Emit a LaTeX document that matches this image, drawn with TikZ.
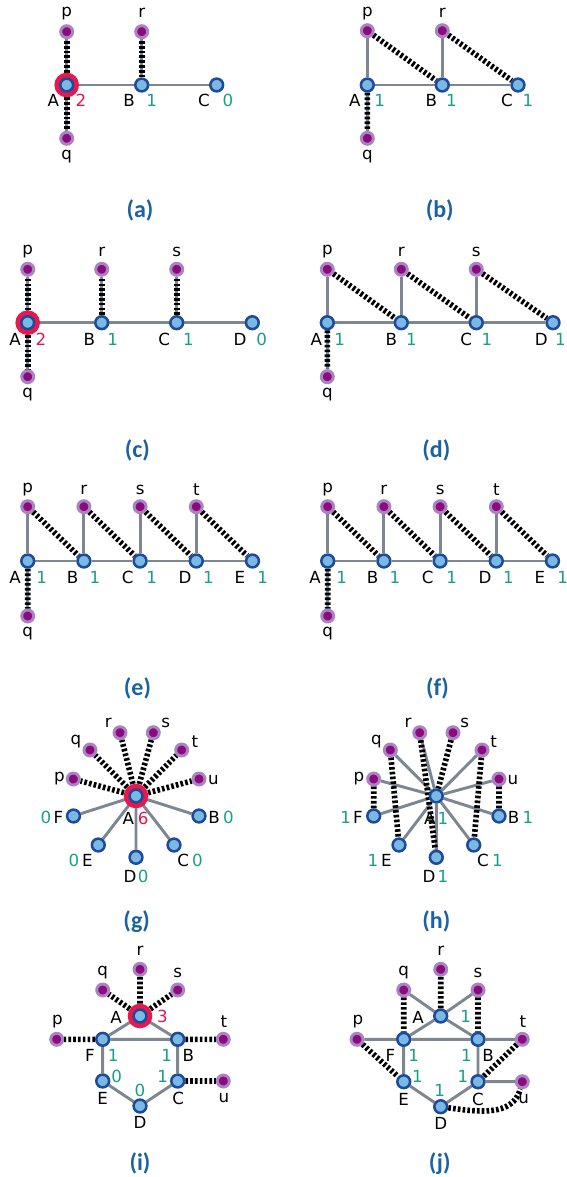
\documentclass[tikz,border=0pt]{standalone}
\usepackage{fontspec}
\setmainfont{DejaVu Sans}
\newfontfamily\capfont{Carlito}
\definecolor{edgegray}{HTML}{7D8791}
\definecolor{vfill}{HTML}{7AB9E3}
\definecolor{vborder}{HTML}{1D4B99}
\definecolor{xdark}{HTML}{8C0A7C}
\definecolor{xlight}{HTML}{A884C4}
\definecolor{halored}{HTML}{E8184F}
\definecolor{numgreen}{HTML}{17A085}
\definecolor{numred}{HTML}{E3174F}
\definecolor{capblue}{HTML}{1A62A0}
\pgfdeclarelayer{edges}
\pgfsetlayers{edges,main}
\tikzset{
  vtx/.style={circle, inner sep=0pt, minimum size=9.6pt, fill=vfill, draw=vborder, line width=1.9pt},
  ext/.style={circle, inner sep=0pt, minimum size=9pt, fill=xdark, draw=xlight, line width=2.2pt},
  halo/.style={circle, inner sep=0pt, minimum size=18.5pt, fill=halored},
  gedge/.style={draw=edgegray, line width=2.2pt},
  medge/.style={draw=black, line width=4.2pt, dash pattern=on 2pt off 1.6pt},
  lab/.style={inner sep=0pt, font=\fontsize{12.5}{14}\selectfont, text=black},
  num/.style={lab, text=numgreen},
  hnum/.style={lab, text=numred},
  ttl/.style={inner sep=0pt, font=\capfont\bfseries\fontsize{18}{20}\selectfont, text=capblue},
}
\newcommand\tx[4]{\node[#1] (#2) at (#3) {#4};}
\begin{document}
\begin{tikzpicture}[x=0.75pt,y=-0.75pt]
\useasboundingbox (0,0) rectangle (567,1177);

% ---------- (a) ----------
\node[halo] (a-h) at (66.7,85) {};
\node[vtx] (a-A) at (66.7,85) {};
\node[vtx] (a-B) at (141.7,85) {};
\node[vtx] (a-C) at (216.7,85) {};
\node[ext] (a-p) at (66.7,31.7) {};
\node[ext] (a-r) at (141.7,31.7) {};
\node[ext] (a-q) at (66.7,138.3) {};
\tx{lab}{a-tp}{66.7,13.3}{p}
\tx{lab}{a-tr}{141.7,13.3}{r}
\tx{lab}{a-tq}{66.7,156.7}{q}
\tx{lab}{a-tA}{53.3,100}{A}
\tx{hnum}{a-nA}{81,100}{2}
\tx{lab}{a-tB}{129,100}{B}
\tx{num}{a-nB}{151.7,100}{1}
\tx{lab}{a-tC}{204,100}{C}
\tx{num}{a-nC}{228,100}{0}
\tx{ttl}{a-cap}{140,210}{(a)}
\begin{pgfonlayer}{edges}
\draw[gedge] (a-A) -- (a-B) -- (a-C);
\draw[gedge] (a-A) -- (a-p) (a-A) -- (a-q) (a-B) -- (a-r);
\draw[medge] (a-A) -- (a-p) (a-A) -- (a-q) (a-B) -- (a-r);
\end{pgfonlayer}

% ---------- (b) ----------
\begin{scope}[shift={(300,0)}]
\node[vtx] (b-A) at (67.3,85) {};
\node[vtx] (b-B) at (142.3,85) {};
\node[vtx] (b-C) at (218,85) {};
\node[ext] (b-p) at (67.3,30.7) {};
\node[ext] (b-r) at (142.3,30.7) {};
\node[ext] (b-q) at (67.3,138.3) {};
\tx{lab}{b-tp}{67.3,13.3}{p}
\tx{lab}{b-tr}{142.3,13.3}{r}
\tx{lab}{b-tq}{67.3,156.7}{q}
\tx{lab}{b-tA}{54.7,100}{A}
\tx{num}{b-nA}{79.7,100}{1}
\tx{lab}{b-tB}{131.3,100}{B}
\tx{num}{b-nB}{151.3,100}{1}
\tx{lab}{b-tC}{207,100}{C}
\tx{num}{b-nC}{228,100}{1}
\tx{ttl}{b-cap}{139.7,210}{(b)}
\begin{pgfonlayer}{edges}
\draw[gedge] (b-A) -- (b-B) -- (b-C);
\draw[gedge] (b-A) -- (b-p) (b-B) -- (b-r) (b-A) -- (b-q);
\draw[medge] (b-p) -- (b-B) (b-r) -- (b-C) (b-A) -- (b-q);
\end{pgfonlayer}
\end{scope}

% ---------- (c) ----------
\node[halo] (c-h) at (27.7,322.7) {};
\node[vtx] (c-A) at (27.7,322.7) {};
\node[vtx] (c-B) at (101.7,322.7) {};
\node[vtx] (c-C) at (176.7,322.7) {};
\node[vtx] (c-D) at (252.3,322.7) {};
\node[ext] (c-p) at (27.7,269.3) {};
\node[ext] (c-r) at (101.7,269.3) {};
\node[ext] (c-s) at (176.7,269.3) {};
\node[ext] (c-q) at (27.7,376.7) {};
\tx{lab}{c-tp}{27.7,251.7}{p}
\tx{lab}{c-tr}{101.7,251.7}{r}
\tx{lab}{c-ts}{176.7,251.7}{s}
\tx{lab}{c-tq}{27.7,395}{q}
\tx{lab}{c-tA}{15,339}{A}
\tx{hnum}{c-nA}{41,339}{2}
\tx{lab}{c-tB}{89.3,339}{B}
\tx{num}{c-nB}{112.7,339}{1}
\tx{lab}{c-tC}{164.3,339}{C}
\tx{num}{c-nC}{188.3,339}{1}
\tx{lab}{c-tD}{240,339}{D}
\tx{num}{c-nD}{261.7,339}{0}
\tx{ttl}{c-cap}{137.3,450}{(c)}
\begin{pgfonlayer}{edges}
\draw[gedge] (c-A) -- (c-B) -- (c-C) -- (c-D);
\draw[gedge] (c-A) -- (c-p) (c-A) -- (c-q) (c-B) -- (c-r) (c-C) -- (c-s);
\draw[medge] (c-A) -- (c-p) (c-A) -- (c-q) (c-B) -- (c-r) (c-C) -- (c-s);
\end{pgfonlayer}

% ---------- (d) ----------
\begin{scope}[shift={(300,0)}]
\node[vtx] (d-A) at (27.3,322.7) {};
\node[vtx] (d-B) at (101.3,322.7) {};
\node[vtx] (d-C) at (176.3,322.7) {};
\node[vtx] (d-D) at (253,322.7) {};
\node[ext] (d-p) at (27.3,269.3) {};
\node[ext] (d-r) at (101.3,269.3) {};
\node[ext] (d-s) at (176.3,269.3) {};
\node[ext] (d-q) at (27.3,376.7) {};
\tx{lab}{d-tp}{27.3,251.7}{p}
\tx{lab}{d-tr}{101.3,251.7}{r}
\tx{lab}{d-ts}{176.3,251.7}{s}
\tx{lab}{d-tq}{27.3,395}{q}
\tx{lab}{d-tA}{16.3,339}{A}
\tx{num}{d-nA}{39.7,339}{1}
\tx{lab}{d-tB}{91.3,339}{B}
\tx{num}{d-nB}{111.3,339}{1}
\tx{lab}{d-tC}{166.3,339}{C}
\tx{num}{d-nC}{187,339}{1}
\tx{lab}{d-tD}{241.3,339}{D}
\tx{num}{d-nD}{260.3,339}{1}
\tx{ttl}{d-cap}{136.3,450}{(d)}
\begin{pgfonlayer}{edges}
\draw[gedge] (d-A) -- (d-B) -- (d-C) -- (d-D);
\draw[gedge] (d-A) -- (d-p) (d-B) -- (d-r) (d-C) -- (d-s) (d-A) -- (d-q);
\draw[medge] (d-p) -- (d-B) (d-r) -- (d-C) (d-s) -- (d-D) (d-A) -- (d-q);
\end{pgfonlayer}
\end{scope}

% ---------- (e) and (f): same state ----------
\foreach \P/\dx in {e/0, f/300}{
\begin{scope}[shift={(\dx,0)}]
\node[vtx] (\P-A) at (27.7,561) {};
\node[vtx] (\P-B) at (83.9,561) {};
\node[vtx] (\P-C) at (140.1,561) {};
\node[vtx] (\P-D) at (196.3,561) {};
\node[vtx] (\P-E) at (252.5,561) {};
\node[ext] (\P-p) at (27.7,506.7) {};
\node[ext] (\P-r) at (83.9,506.7) {};
\node[ext] (\P-s) at (140.1,506.7) {};
\node[ext] (\P-t) at (196.3,506.7) {};
\node[ext] (\P-q) at (27.7,616) {};
\tx{lab}{\P-tp}{27.7,490}{p}
\tx{lab}{\P-tr}{83.9,490}{r}
\tx{lab}{\P-ts}{140.1,490}{s}
\tx{lab}{\P-tt}{196.3,490}{t}
\tx{lab}{\P-tq}{27.7,633.3}{q}
\tx{lab}{\P-tA}{15,577.3}{A}
\tx{num}{\P-nA}{41.7,577.3}{1}
\tx{lab}{\P-tB}{72.7,577.3}{B}
\tx{num}{\P-nB}{95,577.3}{1}
\tx{lab}{\P-tC}{127.7,577.3}{C}
\tx{num}{\P-nC}{151.7,577.3}{1}
\tx{lab}{\P-tD}{185,577.3}{D}
\tx{num}{\P-nD}{208.3,577.3}{1}
\tx{lab}{\P-tE}{240,577.3}{E}
\tx{num}{\P-nE}{262.7,577.3}{1}
\tx{ttl}{\P-cap}{137.5,688.3}{(\P)}
\begin{pgfonlayer}{edges}
\draw[gedge] (\P-A) -- (\P-B) -- (\P-C) -- (\P-D) -- (\P-E);
\draw[gedge] (\P-A) -- (\P-p) (\P-B) -- (\P-r) (\P-C) -- (\P-s) (\P-D) -- (\P-t) (\P-A) -- (\P-q);
\draw[medge] (\P-p) -- (\P-B) (\P-r) -- (\P-C) (\P-s) -- (\P-D) (\P-t) -- (\P-E) (\P-A) -- (\P-q);
\end{pgfonlayer}
\end{scope}
}

% ---------- (g) ----------
\node[halo] (g-h) at (136,796) {};
\node[vtx] (g-A) at (136,796) {};
\node[vtx] (g-B) at (199,816) {};
\node[vtx] (g-C) at (174,845) {};
\node[vtx] (g-D) at (136,857.3) {};
\node[vtx] (g-E) at (98.3,845) {};
\node[vtx] (g-F) at (73.5,816) {};
\node[ext] (g-p) at (73.3,779) {};
\node[ext] (g-q) at (90,750) {};
\node[ext] (g-r) at (120,732.7) {};
\node[ext] (g-s) at (153.3,732.7) {};
\node[ext] (g-t) at (181.7,750) {};
\node[ext] (g-u) at (199,779) {};
\tx{lab}{g-tp}{59.3,778.3}{p}
\tx{lab}{g-tq}{76,741.7}{q}
\tx{lab}{g-tr}{108.3,722.7}{r}
\tx{lab}{g-ts}{165.7,722.7}{s}
\tx{lab}{g-tt}{195,741.7}{t}
\tx{lab}{g-tu}{213.3,780}{u}
\tx{lab}{g-tA}{128.3,818.3}{A}
\tx{hnum}{g-nA}{143.3,818.3}{6}
\tx{lab}{g-tF}{58.3,817.3}{F}
\tx{num}{g-nF}{46,817.3}{0}
\tx{lab}{g-tB}{214,817.3}{B}
\tx{num}{g-nB}{228.3,817.3}{0}
\tx{lab}{g-tE}{87.3,860.7}{E}
\tx{num}{g-nE}{74,860.7}{0}
\tx{lab}{g-tC}{183.3,860.7}{C}
\tx{num}{g-nC}{197.3,860.7}{0}
\tx{lab}{g-tD}{130,876}{D}
\tx{num}{g-nD}{143.3,876}{0}
\tx{ttl}{g-cap}{136.7,921.7}{(g)}
\begin{pgfonlayer}{edges}
\draw[gedge] (g-A) -- (g-B) (g-A) -- (g-C) (g-A) -- (g-D) (g-A) -- (g-E) (g-A) -- (g-F);
\draw[medge] (g-A) -- (g-p) (g-A) -- (g-q) (g-A) -- (g-r) (g-A) -- (g-s) (g-A) -- (g-t) (g-A) -- (g-u);
\end{pgfonlayer}

% ---------- (h) ----------
\begin{scope}[shift={(300,0)}]
\node[vtx] (h-A) at (136.3,796) {};
\node[vtx] (h-B) at (199,816) {};
\node[vtx] (h-C) at (173.7,845) {};
\node[vtx] (h-D) at (136.3,857.3) {};
\node[vtx] (h-E) at (99,845) {};
\node[vtx] (h-F) at (73.7,816) {};
\node[ext] (h-p) at (73.7,779) {};
\node[ext] (h-q) at (90.3,750) {};
\node[ext] (h-r) at (119.7,732.7) {};
\node[ext] (h-s) at (153,732.7) {};
\node[ext] (h-t) at (182,750) {};
\node[ext] (h-u) at (199,779) {};
\tx{lab}{h-tp}{59,778.3}{p}
\tx{lab}{h-tq}{76.3,741.7}{q}
\tx{lab}{h-tr}{108,722.7}{r}
\tx{lab}{h-ts}{164.7,722.7}{s}
\tx{lab}{h-tt}{193.7,741.7}{t}
\tx{lab}{h-tu}{213,780}{u}
\tx{lab}{h-tA}{129.7,818.3}{A}
\tx{num}{h-nA}{143,818.3}{1}
\tx{lab}{h-tF}{58,817.3}{F}
\tx{num}{h-nF}{45.7,817.3}{1}
\tx{lab}{h-tB}{213.7,817.3}{B}
\tx{num}{h-nB}{228,817.3}{1}
\tx{lab}{h-tE}{86.3,860.7}{E}
\tx{num}{h-nE}{73,860.7}{1}
\tx{lab}{h-tC}{183,860.7}{C}
\tx{num}{h-nC}{197.3,860.7}{1}
\tx{lab}{h-tD}{129,876}{D}
\tx{num}{h-nD}{143,876}{1}
\tx{ttl}{h-cap}{136.3,921.7}{(h)}
\begin{pgfonlayer}{edges}
\draw[gedge] (h-A) -- (h-B) (h-A) -- (h-C) (h-A) -- (h-D) (h-A) -- (h-E) (h-A) -- (h-F);
\draw[gedge] (h-A) -- (h-p) (h-A) -- (h-q) (h-A) -- (h-r) (h-A) -- (h-t) (h-A) -- (h-u);
\draw[medge] (h-p) -- (h-F) (h-q) -- (h-E) (h-r) -- (h-D) (h-s) -- (h-A) (h-t) -- (h-C) (h-u) -- (h-B);
\end{pgfonlayer}
\end{scope}

% ---------- (i) ----------
\node[halo] (i-h) at (140,1016) {};
\node[vtx] (i-A) at (140,1016) {};
\node[vtx] (i-F) at (102.7,1039.3) {};
\node[vtx] (i-B) at (177.7,1039.3) {};
\node[vtx] (i-E) at (102.7,1081) {};
\node[vtx] (i-C) at (177.7,1081) {};
\node[vtx] (i-D) at (140,1106) {};
\node[ext] (i-p) at (56.7,1039.3) {};
\node[ext] (i-t) at (223.3,1039.3) {};
\node[ext] (i-u) at (223.3,1081) {};
\node[ext] (i-q) at (102.7,990) {};
\node[ext] (i-r) at (140,969.3) {};
\node[ext] (i-s) at (177.7,990) {};
\tx{lab}{i-tq}{102.7,972.7}{q}
\tx{lab}{i-tr}{140,950.7}{r}
\tx{lab}{i-ts}{177.7,972.7}{s}
\tx{lab}{i-tp}{57.3,1021.7}{p}
\tx{lab}{i-tt}{224,1021.7}{t}
\tx{lab}{i-tu}{224,1098.3}{u}
\tx{lab}{i-tA}{116,1017.7}{A}
\tx{hnum}{i-nA}{162.3,1016}{3}
\tx{lab}{i-tF}{90,1055}{F}
\tx{num}{i-nF}{113.3,1055}{1}
\tx{num}{i-nB}{166.7,1055}{1}
\tx{lab}{i-tB}{188.3,1055}{B}
\tx{lab}{i-tE}{102.7,1098.3}{E}
\tx{num}{i-nE}{116.7,1076.7}{0}
\tx{num}{i-nD}{140,1090}{0}
\tx{num}{i-nC}{162.7,1076.7}{1}
\tx{lab}{i-tC}{178.3,1098.3}{C}
\tx{lab}{i-tD}{140,1122.7}{D}
\tx{ttl}{i-cap}{140,1163.3}{(i)}
\begin{pgfonlayer}{edges}
\draw[gedge] (i-A) -- (i-F) -- (i-B) -- (i-A);
\draw[gedge] (i-F) -- (i-E) -- (i-D) -- (i-C) -- (i-B);
\draw[medge] (i-A) -- (i-q) (i-A) -- (i-r) (i-A) -- (i-s) (i-F) -- (i-p) (i-B) -- (i-t) (i-C) -- (i-u);
\end{pgfonlayer}

% ---------- (j) ----------
\begin{scope}[shift={(300,0)}]
\node[vtx] (j-A) at (140.7,1016) {};
\node[vtx] (j-F) at (103.7,1039.3) {};
\node[vtx] (j-B) at (178,1039.3) {};
\node[vtx] (j-E) at (103.7,1081.7) {};
\node[vtx] (j-C) at (178,1081.7) {};
\node[vtx] (j-D) at (140.7,1106.7) {};
\node[ext] (j-p) at (57,1039.3) {};
\node[ext] (j-t) at (222.3,1039.3) {};
\node[ext] (j-u) at (222.3,1081.7) {};
\node[ext] (j-q) at (103.7,990) {};
\node[ext] (j-r) at (140.7,969.3) {};
\node[ext] (j-s) at (178,990) {};
\tx{lab}{j-tr}{140.7,950.7}{r}
\tx{lab}{j-tq}{103.7,972.7}{q}
\tx{lab}{j-ts}{178,972.7}{s}
\tx{lab}{j-tp}{58,1021.7}{p}
\tx{lab}{j-tt}{223,1021.7}{t}
\tx{lab}{j-tu}{223.7,1099.3}{u}
\tx{lab}{j-tA}{118,1017.7}{A}
\tx{num}{j-nA}{165.7,1016}{1}
\tx{lab}{j-tF}{90.3,1055}{F}
\tx{num}{j-nF}{113.7,1055}{1}
\tx{num}{j-nB}{166.3,1055}{1}
\tx{lab}{j-tB}{188,1055}{B}
\tx{num}{j-nE}{117.3,1076.7}{1}
\tx{lab}{j-tE}{103.7,1099.3}{E}
\tx{num}{j-nD}{139.7,1090}{1}
\tx{num}{j-nC}{163,1076.7}{1}
\tx{lab}{j-tC}{178,1099.3}{C}
\tx{lab}{j-tD}{140.7,1123.3}{D}
\tx{ttl}{j-cap}{139.7,1163.3}{(j)}
\begin{pgfonlayer}{edges}
\draw[gedge] (j-A) -- (j-F) -- (j-B) -- (j-A);
\draw[gedge] (j-F) -- (j-E) -- (j-D) -- (j-C) -- (j-B);
\draw[gedge] (j-A) -- (j-q) (j-A) -- (j-s) (j-F) -- (j-p) (j-B) -- (j-t) (j-C) -- (j-u);
\draw[medge] (j-A) -- (j-r) (j-q) -- (j-F) (j-s) -- (j-B) (j-p) -- (j-E) (j-t) -- (j-C);
\draw[medge] (j-D) to[out=-8,in=-105] (j-u);
\end{pgfonlayer}
\end{scope}
\end{tikzpicture}
\end{document}
